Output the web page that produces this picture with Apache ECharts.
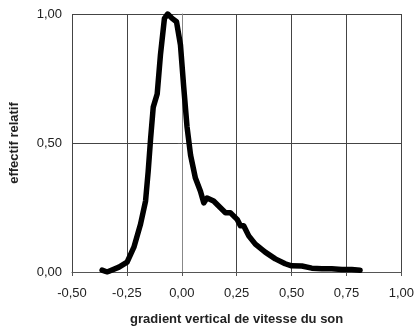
<!DOCTYPE html>
<html>
<head>
<meta charset="utf-8">
<script src="https://cdn.jsdelivr.net/npm/echarts@6/dist/echarts.min.js"></script>
<style>html,body{margin:0;padding:0;background:#fff;}#c{width:417px;height:331px;}</style>
</head>
<body>
<div id="c"></div>
<script>
const xValues = [-0.363,-0.34,-0.286,-0.249,-0.218,-0.188,-0.165,-0.153,-0.142,-0.130,-0.112,-0.097,-0.079,-0.064,-0.044,-0.024,-0.006,0.009,0.024,0.04,0.062,0.085,0.1,0.115,0.145,0.176,0.199,0.221,0.252,0.267,0.282,0.305,0.335,0.38,0.426,0.471,0.50,0.547,0.592,0.638,0.683,0.729,0.774,0.812];
const yValues = [0.007,0.0,0.019,0.038,0.096,0.185,0.275,0.39,0.517,0.639,0.69,0.843,0.983,1.0,0.983,0.97,0.88,0.715,0.562,0.453,0.364,0.313,0.268,0.287,0.275,0.249,0.23,0.23,0.204,0.179,0.179,0.14,0.108,0.077,0.051,0.032,0.024,0.023,0.015,0.013,0.013,0.01,0.01,0.007];
const xTicks = [-0.5,-0.25,0,0.25,0.5,0.75,1.0];
const yTicks = [0,0.5,1.0];
const xTitle = 'gradient vertical de vitesse du son';
const yTitle = 'effectif relatif';

const fmt = v => v.toFixed(2).replace('.', ',');
const chart = echarts.init(document.getElementById('c'), null, {renderer:'canvas'});
chart.setOption({
  animation:false,
  backgroundColor:'#fff',
  grid:{left:72,right:14,top:14,bottom:56,containLabel:false},
  xAxis:{
    type:'value', min:xTicks[0], max:xTicks[xTicks.length-1], interval:0.25,
    axisLine:{show:true,onZero:false,lineStyle:{color:'#555',width:1}},
    axisTick:{show:true,length:4,lineStyle:{color:'#555'}},
    axisLabel:{formatter:fmt,color:'#222',fontFamily:'Liberation Sans',fontSize:13,margin:15},
    splitLine:{show:true,lineStyle:{color:'#444',width:1}},
    name:xTitle,nameLocation:'middle',nameGap:41,
    nameTextStyle:{fontFamily:'Liberation Sans',fontWeight:'bold',fontSize:13,color:'#222'}
  },
  yAxis:{
    type:'value', min:yTicks[0], max:yTicks[yTicks.length-1], interval:0.5,
    axisLine:{show:true,lineStyle:{color:'#888',width:1}},
    axisTick:{show:true,length:4,lineStyle:{color:'#555'}},
    axisLabel:{formatter:fmt,color:'#222',fontFamily:'Liberation Sans',fontSize:13,margin:10},
    splitLine:{show:true,lineStyle:{color:'#444',width:1}},
    name:yTitle,nameLocation:'middle',nameGap:51,
    nameTextStyle:{fontFamily:'Liberation Sans',fontWeight:'bold',fontSize:13,color:'#222'}
  },
  series:[{
    type:'line', showSymbol:false, symbol:'none', smooth:false,
    data:xValues.map((x,i)=>[x,yValues[i]]),
    lineStyle:{color:'#000',width:5.5,cap:'round',join:'round'}
  }]
});
</script>
</body>
</html>
